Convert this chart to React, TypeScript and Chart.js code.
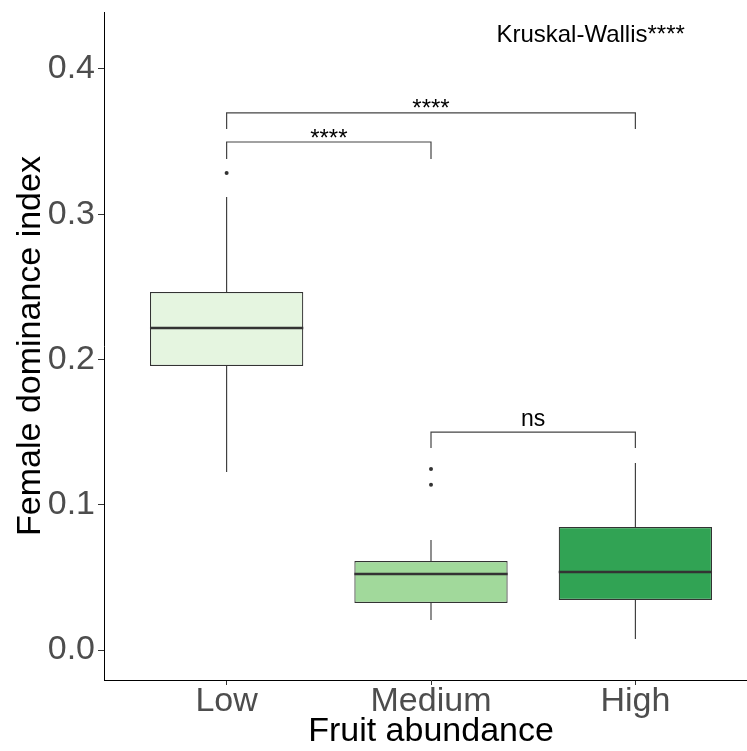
import React, { useEffect, useRef } from 'react';
import { Chart, registerables } from 'chart.js';

Chart.register(...registerables);

// ---- data ----
const categories = ['Low', 'Medium', 'High'];
const positions = [1, 2, 3];
const lowerWhisker = [0.1225, 0.0207, 0.0076];
const q1 = [0.1955, 0.0324, 0.0344];
const median = [0.2217, 0.0523, 0.0537];
const q3 = [0.2465, 0.0613, 0.0847];
const upperWhisker = [0.3119, 0.0757, 0.1287];
const outlierX = [1, 2, 2];
const outlierY = [0.3284, 0.1246, 0.1138];
const fillColors = ['#e5f5e0', '#a1d99b', '#31a354'];
const yTicks = [0, 0.1, 0.2, 0.3, 0.4];

const bracketFrom = [1, 1, 2];
const bracketTo = [3, 2, 3];
const bracketTop = [0.3697, 0.3497, 0.1500];
const bracketTip = [0.3587, 0.3380, 0.1390];
const bracketLabels = ['****', '****', 'ns'];
const testLabel = 'Kruskal-Wallis****';
const testLabelX = 2.32;
const testLabelY = 0.4186;

const FONT = "'Liberation Sans', Arial, sans-serif";
const INK = '#333333';

const extras = {
  id: 'boxExtras',
  beforeDatasetsDraw(chart: any) {
    const { ctx, scales } = chart;
    const xs = scales.x;
    const ys = scales.y;
    ctx.save();
    ctx.strokeStyle = INK;
    ctx.lineWidth = 1.1;
    positions.forEach((p, i) => {
      const x = xs.getPixelForValue(p);
      ctx.beginPath();
      ctx.moveTo(x, ys.getPixelForValue(q3[i]));
      ctx.lineTo(x, ys.getPixelForValue(upperWhisker[i]));
      ctx.moveTo(x, ys.getPixelForValue(q1[i]));
      ctx.lineTo(x, ys.getPixelForValue(lowerWhisker[i]));
      ctx.stroke();
    });
    ctx.restore();
  },
  afterDatasetsDraw(chart: any) {
    const { ctx, scales } = chart;
    const xs = scales.x;
    const ys = scales.y;
    const unit = xs.getPixelForValue(2) - xs.getPixelForValue(1);
    const half = unit * 0.75 / 2;
    ctx.save();
    // medians
    ctx.strokeStyle = INK;
    ctx.lineWidth = 2.4;
    positions.forEach((p, i) => {
      const x = xs.getPixelForValue(p);
      const y = ys.getPixelForValue(median[i]);
      ctx.beginPath();
      ctx.moveTo(x - half, y);
      ctx.lineTo(x + half, y);
      ctx.stroke();
    });
    // brackets
    ctx.lineWidth = 1.2;
    ctx.strokeStyle = '#444444';
    ctx.fillStyle = '#000000';
    ctx.textAlign = 'center';
    ctx.textBaseline = 'alphabetic';
    bracketLabels.forEach((lab, i) => {
      const x1 = xs.getPixelForValue(bracketFrom[i]);
      const x2 = xs.getPixelForValue(bracketTo[i]);
      const yt = ys.getPixelForValue(bracketTop[i]);
      const yb = ys.getPixelForValue(bracketTip[i]);
      ctx.beginPath();
      ctx.moveTo(x1, yb);
      ctx.lineTo(x1, yt);
      ctx.lineTo(x2, yt);
      ctx.lineTo(x2, yb);
      ctx.stroke();
      const isNs = lab === 'ns';
      ctx.font = `${isNs ? 23 : 24}px ${FONT}`;
      const off = isNs ? -6 : 3.5;
      ctx.fillText(lab, (x1 + x2) / 2, yt + off);
    });
    ctx.textAlign = 'left';
    ctx.font = `24px ${FONT}`;
    ctx.fillText(testLabel, xs.getPixelForValue(testLabelX), ys.getPixelForValue(testLabelY));
    ctx.restore();
  },
};

export default function App() {
  const ref = useRef<HTMLCanvasElement>(null);
  useEffect(() => {
    const chart = new Chart(ref.current as HTMLCanvasElement, {
      type: 'bar',
      data: {
        datasets: [
          {
            type: 'bar',
            data: positions.map((p, i) => ({ x: p, y: [q1[i], q3[i]] })) as any,
            backgroundColor: fillColors,
            borderColor: INK,
            borderWidth: 1.2,
            borderSkipped: false,
            categoryPercentage: 1,
            barPercentage: 0.75,
          } as any,
          {
            type: 'scatter',
            data: outlierX.map((x, i) => ({ x, y: outlierY[i] })),
            backgroundColor: INK,
            borderColor: INK,
            pointRadius: 2,
            borderWidth: 0,
            showLine: false,
          } as any,
        ],
      },
      options: {
        animation: false,
        responsive: false,
        layout: { padding: { left: 0, top: 12, right: 0, bottom: 0 } },
        plugins: { legend: { display: false }, tooltip: { enabled: false } },
        scales: {
          x: {
            type: 'linear',
            min: 0.4,
            max: 3.6,
            offset: false,
            afterBuildTicks: (s: any) => { s.ticks = positions.map((v) => ({ value: v })); },
            afterFit: (s: any) => { s.height = 71; s.paddingLeft = 0; s.paddingRight = 0; },
            grid: { offset: false, drawOnChartArea: false, drawTicks: true, tickLength: 5, color: INK },
            border: { display: true, color: '#000000', width: 1 },
            ticks: {
              font: { family: FONT, size: 34 },
              color: '#4d4d4d',
              padding: -4,
              maxRotation: 0,
              callback: (v: any) => categories[positions.indexOf(Number(v))] ?? '',
            },
            title: {
              display: true,
              text: 'Fruit abundance',
              font: { family: FONT, size: 34 },
              color: '#000000',
              padding: { top: 0, bottom: -1 },
            },
          },
          y: {
            type: 'linear',
            min: -0.02065,
            max: 0.4392,
            afterBuildTicks: (s: any) => { s.ticks = yTicks.map((v) => ({ value: v })); },
            afterFit: (s: any) => { s.width = 104; s.paddingTop = 0; s.paddingBottom = 0; },
            grid: { drawOnChartArea: false, drawTicks: true, tickLength: 6, color: INK },
            border: { display: true, color: '#000000', width: 1 },
            ticks: {
              font: { family: FONT, size: 34 },
              color: '#4d4d4d',
              padding: 3,
              callback: (v: any) => Number(v).toFixed(1),
            },
            title: {
              display: true,
              text: 'Female dominance index',
              font: { family: FONT, size: 34 },
              color: '#000000',
              padding: { top: 10, bottom: 0 },
            },
          },
        },
      } as any,
      plugins: [extras],
    });
    return () => chart.destroy();
  }, []);
  return (
    <div style={{ position: 'absolute', left: 0, top: 0, width: 747, height: 751, overflow: 'hidden', background: '#ffffff' }}>
      <canvas ref={ref} width={762} height={751} style={{ display: 'block' }} />
    </div>
  );
}
